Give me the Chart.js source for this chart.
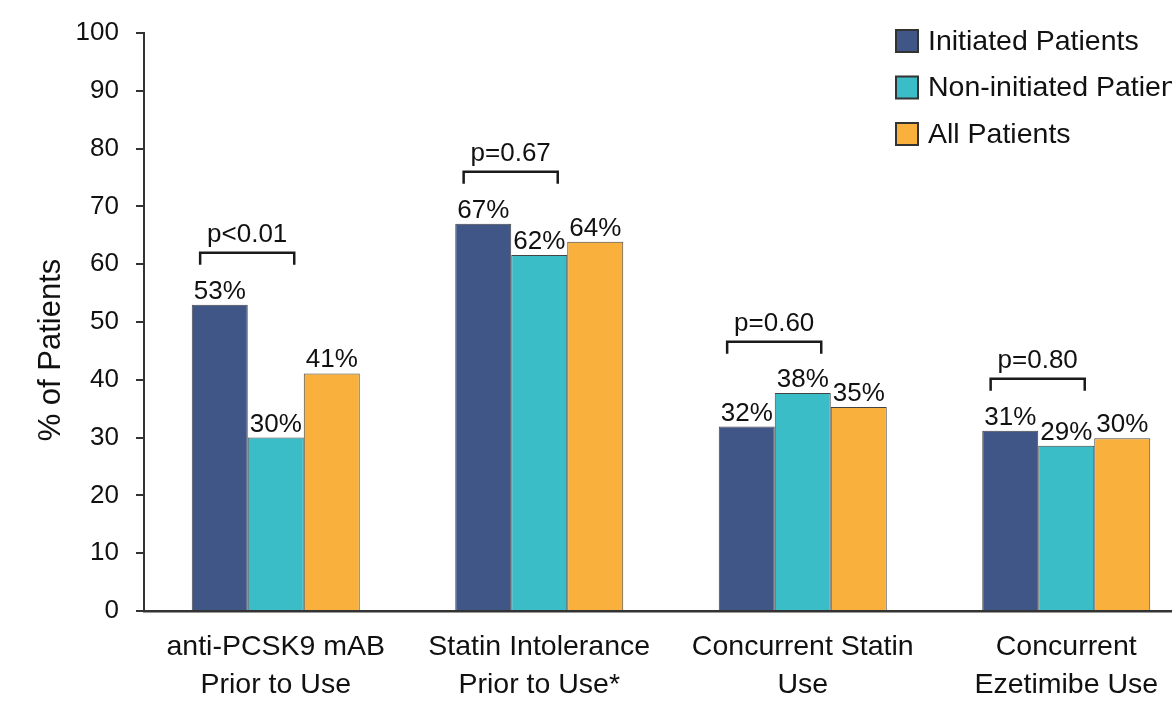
<!DOCTYPE html>
<html>
<head>
<meta charset="utf-8">
<script src="https://cdn.jsdelivr.net/npm/chart.js@4.4.1/dist/chart.umd.min.js"></script>
<style>
  html, body { margin: 0; padding: 0; background: #fff; overflow: hidden; }
  #wrap { position: absolute; left: 0; top: 0; width: 1200px; height: 704px; }
</style>
</head>
<body>
<div id="wrap"><canvas id="chart" width="1200" height="704"></canvas></div>
<script>
    // categories (x axis, two lines each)
    const categories = [
        ["anti-PCSK9 mAB", "Prior to Use"],
        ["Statin Intolerance", "Prior to Use*"],
        ["Concurrent Statin", "Use"],
        ["Concurrent", "Ezetimibe Use"]
    ];
    const seriesNames = ["Initiated Patients", "Non-initiated Patients", "All Patients"];
    const initiated = [53.0, 67.0, 31.9, 31.2];
    const nonInitiated = [30.0, 61.6, 37.7, 28.6];
    const allPatients = [41.1, 63.9, 35.3, 29.9];
    const pValues = ["p<0.01", "p=0.67", "p=0.60", "p=0.80"];
    // height (in % units) of the comparison bracket over each group
    const bracketLevel = [62.0, 76.0, 46.6, 40.2];
    const yTicks = [0, 10, 20, 30, 40, 50, 60, 70, 80, 90, 100];

    const colors = ["#3f5687", "#3bbdc8", "#f9b03c"];
    const FONT = "'Liberation Sans', Arial, Helvetica, sans-serif";
    const INK = "#111";

    // value labels, p-value brackets, legend and y title
    const annotations = {
        id: 'annotations',
        afterDatasetsDraw(chart) {
            const ctx = chart.ctx;
            const yScale = chart.scales.y;
            ctx.save();
            ctx.fillStyle = INK;
            ctx.font = "26px " + FONT;
            ctx.textAlign = 'center';
            ctx.textBaseline = 'alphabetic';
            chart.data.datasets.forEach(function (ds, di) {
                chart.getDatasetMeta(di).data.forEach(function (bar, i) {
                    ctx.fillText(Math.round(ds.data[i]) + '%', bar.x, bar.y - 6);
                });
            });

            // brackets between initiated and non-initiated
            ctx.strokeStyle = "#1a1a1a";
            ctx.lineWidth = 2.5;
            bracketLevel.forEach(function (lvl, i) {
                const b0 = chart.getDatasetMeta(0).data[i];
                const w = b0.width;
                const gl = b0.x - w / 2;
                const x0 = gl + 0.15 * w, x1 = gl + 1.83 * w;
                const yy = yScale.getPixelForValue(lvl);
                ctx.beginPath();
                ctx.moveTo(x0, yy + 12);
                ctx.lineTo(x0, yy);
                ctx.lineTo(x1, yy);
                ctx.lineTo(x1, yy + 12);
                ctx.stroke();
                ctx.fillText(pValues[i], (x0 + x1) / 2, yy - 11);
            });

            // legend
            ctx.textAlign = 'left';
            ctx.textBaseline = 'middle';
            ctx.font = "28.5px " + FONT;
            seriesNames.forEach(function (name, i) {
                const top = 30 + i * 46.5;
                ctx.fillStyle = colors[i];
                ctx.fillRect(896, top, 22, 22);
                ctx.strokeStyle = "#333";
                ctx.lineWidth = 2;
                ctx.strokeRect(896, top, 22, 22);
                ctx.fillStyle = INK;
                ctx.fillText(name, 928, top + 12);
            });

            // y axis title
            ctx.translate(51, 350);
            ctx.rotate(-Math.PI / 2);
            ctx.textAlign = 'center';
            ctx.font = "31px " + FONT;
            ctx.fillText("% of Patients", 0, 0);
            ctx.restore();
        }
    };

    const barCommon = {
        borderWidth: 1,
        borderColor: "#444",
        categoryPercentage: 0.6376,
        barPercentage: 1.0
    };

    new Chart(document.getElementById('chart'), {
        type: 'bar',
        data: {
            labels: categories,
            datasets: [
                Object.assign({ label: seriesNames[0], data: initiated, backgroundColor: colors[0] }, barCommon),
                Object.assign({ label: seriesNames[1], data: nonInitiated, backgroundColor: colors[1] }, barCommon),
                Object.assign({ label: seriesNames[2], data: allPatients, backgroundColor: colors[2] }, barCommon)
            ]
        },
        options: {
            responsive: false,
            animation: false,
            layout: { padding: { top: 33, right: 2, left: 0, bottom: 0 } },
            plugins: {
                legend: { display: false },
                tooltip: { enabled: false }
            },
            scales: {
                x: {
                    grid: { display: false, drawTicks: false },
                    border: { display: true, color: "#333", width: 2.5 },
                    ticks: {
                        color: INK,
                        padding: 17,
                        maxRotation: 0,
                        font: { family: FONT, size: 28.5, lineHeight: 38 / 28.5 }
                    },
                    afterFit: function (scale) { scale.height = 93; }
                },
                y: {
                    min: 0,
                    max: 100,
                    grid: {
                        drawOnChartArea: false,
                        drawTicks: true,
                        tickLength: 8,
                        color: "#333",
                        lineWidth: 2
                    },
                    border: { display: true, color: "#333", width: 2 },
                    afterBuildTicks: function (scale) {
                        scale.ticks = yTicks.map(function (v) { return { value: v }; });
                    },
                    ticks: {
                        color: INK,
                        padding: 17,
                        font: { family: FONT, size: 26 }
                    },
                    afterFit: function (scale) { scale.width = 144; }
                }
            }
        },
        plugins: [annotations]
    });
</script>
</body>
</html>
